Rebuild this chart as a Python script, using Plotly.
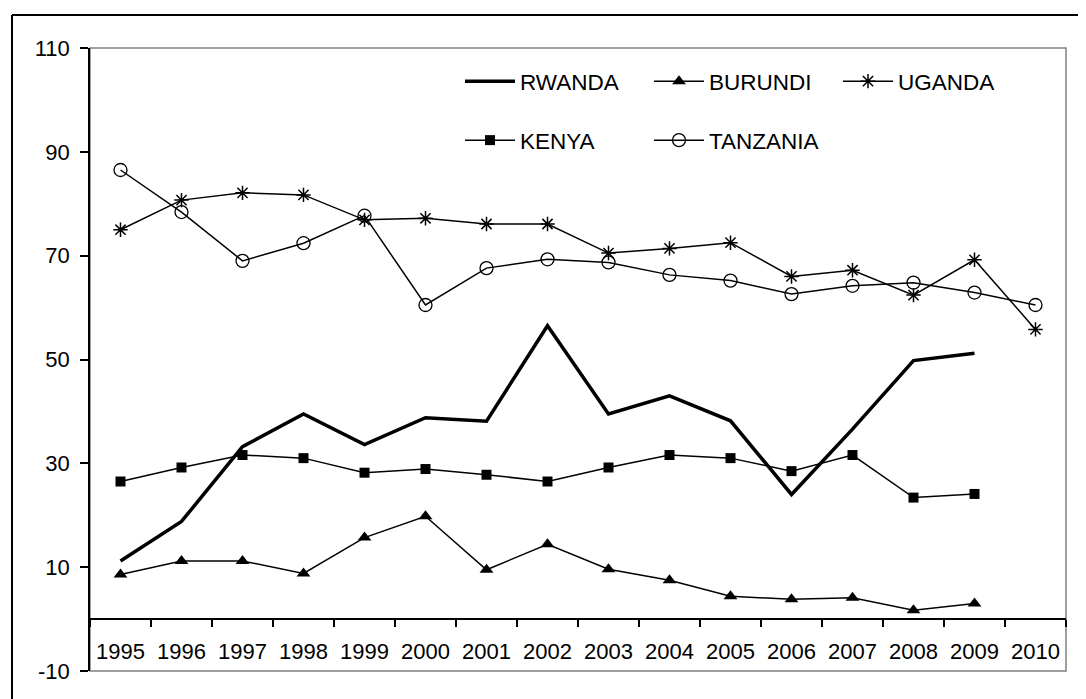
import plotly.graph_objects as go

years = [str(y) for y in range(1995, 2011)]

rwanda = [11.2, 18.8, 33.2, 39.5, 33.6, 38.8, 38.1, 56.5, 39.5, 43.0, 38.2, 24.0, 36.6, 49.8, 51.2, None]
burundi = [8.6, 11.2, 11.2, 8.8, 15.7, 19.8, 9.5, 14.4, 9.6, 7.5, 4.4, 3.8, 4.1, 1.7, 3.0, None]
uganda = [75.0, 80.7, 82.1, 81.7, 76.9, 77.2, 76.1, 76.1, 70.5, 71.4, 72.5, 66.0, 67.2, 62.4, 69.2, 55.8]
kenya = [26.5, 29.2, 31.6, 31.0, 28.2, 28.9, 27.8, 26.5, 29.2, 31.6, 31.0, 28.5, 31.6, 23.4, 24.1, None]
tanzania = [86.5, 78.4, 69.0, 72.4, 77.7, 60.5, 67.6, 69.3, 68.7, 66.3, 65.2, 62.6, 64.2, 64.8, 62.9, 60.5]

y_ticks = [-10, 10, 30, 50, 70, 90, 110]

FONT = "Liberation Sans, Arial, sans-serif"

fig = go.Figure()

fig.add_trace(go.Scatter(x=years, y=rwanda, name="RWANDA", mode="lines",
                         line=dict(color="black", width=3.5), legend="legend"))
fig.add_trace(go.Scatter(x=years, y=burundi, name="BURUNDI", mode="lines+markers",
                         line=dict(color="black", width=1.5),
                         marker=dict(symbol="triangle-up", size=12, color="black"),
                         legend="legend"))
fig.add_trace(go.Scatter(x=years, y=uganda, name="UGANDA", mode="lines+markers",
                         line=dict(color="black", width=1.5),
                         marker=dict(symbol="asterisk-open", size=12, color="black",
                                     line=dict(color="black", width=1.5)),
                         legend="legend"))
fig.add_trace(go.Scatter(x=years, y=kenya, name="KENYA", mode="lines+markers",
                         line=dict(color="black", width=1.5),
                         marker=dict(symbol="square", size=10, color="black"),
                         legend="legend2"))
fig.add_trace(go.Scatter(x=years, y=tanzania, name="TANZANIA", mode="lines+markers",
                         line=dict(color="black", width=1.5),
                         marker=dict(symbol="circle-open", size=13, color="black",
                                     line=dict(color="black", width=1.3)),
                         legend="legend2"))

# page offset of the figure (browser body margin)
OFF = 8
PAGE_W, PAGE_H = 1086, 699
# plot area in page pixels
PL, PR, PT, PB = 90, 1066, 48, 671
W, H = PAGE_W - OFF, PAGE_H - OFF
ml, mt = PL - OFF, PT - OFF
mr, mb = (OFF + W) - PR, (OFF + H) - PB
pw, ph = PR - PL, PB - PT

def px_x(x):
    return (x - PL) / pw

def px_y(y):
    return 1 - (y - PT) / ph

shapes = [
    # gray plot frame
    dict(type="rect", xref="paper", yref="paper", x0=0, x1=1, y0=0, y1=1,
         line=dict(color="#808080", width=1.5), layer="below"),
    # outer black chart frame (left & top visible)
    dict(type="line", xref="paper", yref="paper", x0=px_x(12), x1=px_x(1120),
         y0=px_y(15), y1=px_y(15), line=dict(color="black", width=2)),
    dict(type="line", xref="paper", yref="paper", x0=px_x(12), x1=px_x(12),
         y0=px_y(15), y1=px_y(740), line=dict(color="black", width=2)),
]

legend_common = dict(orientation="h", xanchor="left", yanchor="top",
                     font=dict(family=FONT, size=22.5, color="black"),
                     itemwidth=50, entrywidth=124, bgcolor="rgba(0,0,0,0)",
                     borderwidth=0, traceorder="normal")

fig.update_layout(
    width=W, height=H,
    margin=dict(l=ml, r=mr, t=mt, b=mb, autoexpand=False),
    paper_bgcolor="white", plot_bgcolor="white",
    font=dict(family=FONT, size=22, color="black"),
    showlegend=True,
    legend=dict(x=px_x(460), y=px_y(60), **legend_common),
    legend2=dict(x=px_x(460), y=px_y(119), **legend_common),
    shapes=shapes,
    xaxis=dict(type="category", categoryorder="array", categoryarray=years,
               range=[-0.5, 15.5], anchor="free", position=(0 - (-10)) / 120,
               showline=True, linecolor="black", linewidth=1.5,
               ticks="outside", tickson="boundaries", ticklen=7, tickwidth=1.5,
               tickcolor="black", showgrid=False, zeroline=False,
               tickfont=dict(family=FONT, size=22, color="black"),
               ticklabelstandoff=13),
    yaxis=dict(range=[-10, 110], tickvals=y_ticks, ticktext=[str(v) for v in y_ticks],
               showline=True, linecolor="black", linewidth=1.5,
               ticks="outside", ticklen=8, tickwidth=1.5, tickcolor="black",
               showgrid=False, zeroline=False,
               tickfont=dict(family=FONT, size=22, color="black"),
               ticklabelstandoff=6),
)

fig.write_html("out.html")
